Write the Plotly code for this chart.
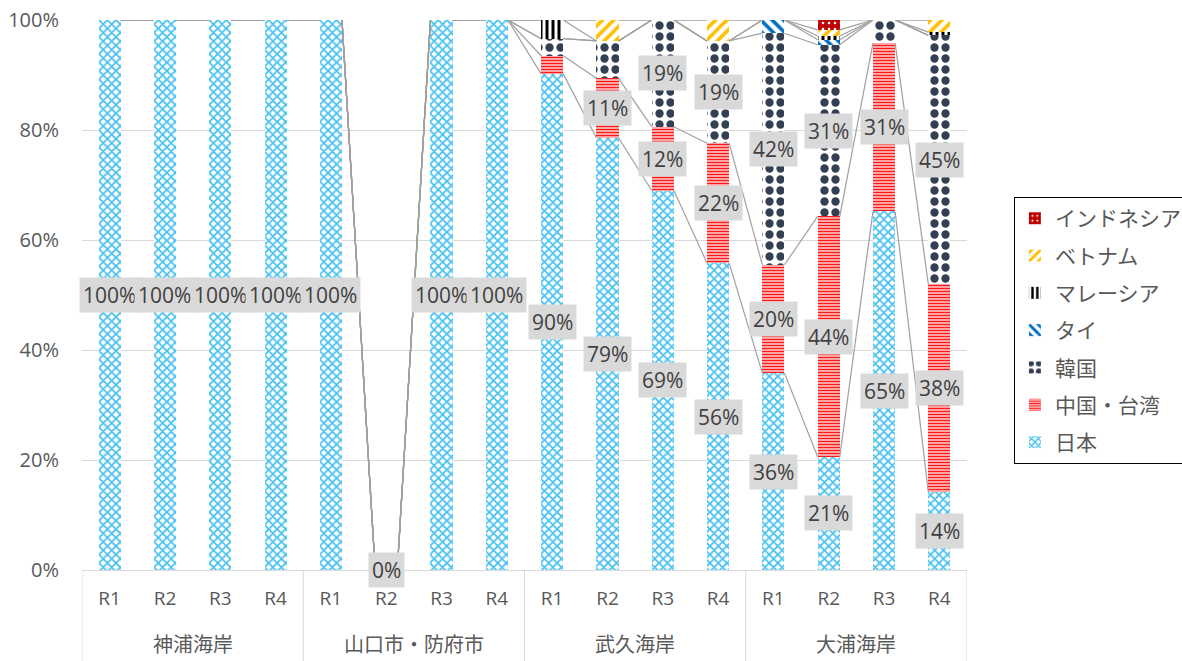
import plotly.graph_objects as go

# ---------------- data ----------------
groups = ["神浦海岸", "山口市・防府市", "武久海岸", "大浦海岸"]
periods = ["R1", "R2", "R3", "R4"]

# shares in percent, one value per bar (4 groups x R1..R4)
japan     = [100, 100, 100, 100, 100, 0, 100, 100, 90.2, 78.6, 69.0, 55.8, 35.8, 20.6, 65.2, 14.2]
china_tw  = [0, 0, 0, 0, 0, 0, 0, 0, 3.3, 10.8, 11.6, 21.8, 19.7, 43.7, 30.6, 37.8]
korea     = [0, 0, 0, 0, 0, 0, 0, 0, 3.1, 6.8, 19.4, 18.6, 42.1, 31.2, 4.2, 45.2]
thailand  = [0, 0, 0, 0, 0, 0, 0, 0, 0, 0, 0, 0, 2.4, 0.9, 0, 0]
malaysia  = [0, 0, 0, 0, 0, 0, 0, 0, 3.4, 0, 0, 0, 0, 0.7, 0, 0.6]
vietnam   = [0, 0, 0, 0, 0, 0, 0, 0, 0, 3.8, 0, 3.8, 0, 1.1, 0, 2.2]
indonesia = [0, 0, 0, 0, 0, 0, 0, 0, 0, 0, 0, 0, 0, 1.8, 0, 0]

series_names = ["日本", "中国・台湾", "韓国", "タイ", "マレーシア", "ベトナム", "インドネシア"]
series_vals = [japan, china_tw, korea, thailand, malaysia, vietnam, indonesia]
labelled = {"日本": 0, "中国・台湾": 10, "韓国": 10}   # label threshold (percent)

styles = {
    "日本":       dict(shape="x", fg="#45c0f0", bg="white", size=6, sol=0.5),
    "中国・台湾": dict(shape="-", fg="#ff1a1a", bg="white", size=3, sol=0.6),
    "韓国":       dict(shape=".", fg="#333f52", bg="white", size=11, sol=0.45),
    "タイ":       dict(shape="\\", fg="#0070c0", bg="white", size=8, sol=0.45),
    "マレーシア": dict(shape="|", fg="#000000", bg="white", size=6, sol=0.5),
    "ベトナム":   dict(shape="/", fg="#ffc000", bg="white", size=8, sol=0.45),
    "インドネシア": dict(shape=".", fg="white", bg="#c00000", size=6, sol=0.15),
}

n = len(japan)
x = list(range(n))
ticktext = [p for _ in groups for p in periods]
BAR_W = 0.4
FONT = "Open Sans, Noto Sans CJK JP, sans-serif"
GRAY = "#595959"

fig = go.Figure()

cum = [0.0] * n
annotations = []
tops = []
for k, (name, vals) in enumerate(zip(series_names, series_vals)):
    st = styles[name]
    frac = [v / 100 for v in vals]
    fig.add_trace(go.Bar(
        x=x, y=frac, name=name, width=BAR_W,
        legendgroup=name, legendrank=100 - k,
        marker=dict(color=st["fg"], line=dict(width=0),
                    pattern=dict(shape=st["shape"], fgcolor=st["fg"], bgcolor=st["bg"],
                                 size=st["size"], solidity=st["sol"], fillmode="replace")),
        hovertemplate=name + ": %{y:.0%}<extra></extra>",
    ))
    if name in labelled:
        thr = labelled[name]
        for i, v in enumerate(vals):
            if (name == "日本") or v >= thr:
                annotations.append(dict(
                    x=i, y=cum[i] + frac[i] / 2, xref="x", yref="y",
                    text=f"{v:.0f}%", showarrow=False,
                    font=dict(family=FONT, size=21, color="#404040"),
                    bgcolor="#d9d9d9", borderpad=3,
                ))
    cum = [c + f for c, f in zip(cum, frac)]
    tops.append(list(cum))

# series lines (connect cumulative tops between adjacent bars)
for top in tops:
    lx, ly = [], []
    for i in range(n - 1):
        lx += [x[i] + BAR_W / 2, x[i + 1] - BAR_W / 2, None]
        ly += [top[i], top[i + 1], None]
    fig.add_trace(go.Scatter(x=lx, y=ly, mode="lines", showlegend=False, hoverinfo="skip",
                             line=dict(color="#a0a0a0", width=1.2)))

# group labels and dividers
shapes = []
for g, name in enumerate(groups):
    annotations.append(dict(
        x=g * 4 + 1.5, y=-0.136, xref="x", yref="paper", text=name, showarrow=False,
        font=dict(family=FONT, size=20, color=GRAY), yanchor="middle"))
for b in [-0.5, 3.5, 7.5, 11.5, 15.5]:
    shapes.append(dict(type="line", xref="x", yref="paper", x0=b, x1=b, y0=0, y1=-0.166,
                       line=dict(color="#d9d9d9", width=1)))

fig.update_layout(
    width=1182, height=661,
    margin=dict(l=82, r=215, t=20, b=91, autoexpand=False),
    barmode="stack", bargap=0.6,
    plot_bgcolor="white", paper_bgcolor="white",
    font=dict(family=FONT, color=GRAY),
    annotations=annotations, shapes=shapes,
    xaxis=dict(range=[-0.5, 15.5], tickmode="array", tickvals=x, ticktext=ticktext,
               showgrid=False, zeroline=False, showline=True, linecolor="#d9d9d9",
               ticks="outside", ticklen=11, tickcolor="rgba(0,0,0,0)",
               tickfont=dict(family=FONT, size=19, color=GRAY)),
    yaxis=dict(range=[0, 1], tickvals=[0, 0.2, 0.4, 0.6, 0.8, 1.0], tickformat=".0%",
               showgrid=True, gridcolor="#d9d9d9", zeroline=False, showline=False,
               ticks="outside", ticklen=18, tickcolor="rgba(0,0,0,0)",
               tickfont=dict(family=FONT, size=20, color=GRAY)),
    legend=dict(x=1.053, y=0.678, xanchor="left", yanchor="top",
                traceorder="grouped", tracegroupgap=7,
                bordercolor="#000000", borderwidth=1, bgcolor="white",
                font=dict(family=FONT, size=21, color=GRAY)),
    showlegend=True,
)

fig.write_html("out.html")
